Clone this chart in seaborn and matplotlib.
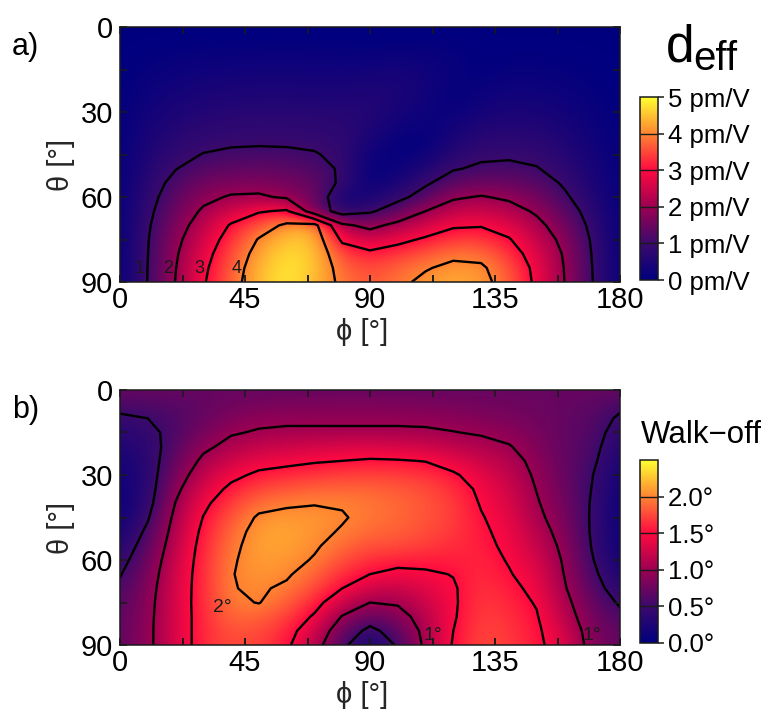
import numpy as np
import matplotlib
matplotlib.use("Agg")
import matplotlib.pyplot as plt
import seaborn as sns
from matplotlib.ticker import MultipleLocator

# ---------------- data ----------------
PHI = [0, 10, 20, 30, 40, 50, 60, 70, 80, 90, 100, 110, 120, 130, 140, 150, 160, 170, 180]
THETA = [0, 5, 10, 15, 20, 25, 30, 35, 40, 45, 50, 55, 60, 65, 70, 75, 80, 85, 90]

# d_eff [pm/V]; one list per phi column, theta 0 -> 90
DEFF_COLUMNS = [
    [0.00,0.00,0.01,0.02,0.03,0.04,0.05,0.06,0.07,0.08,0.09,0.10,0.10,0.11,0.11,0.12,0.12,0.12,0.12],
    [0.00,0.03,0.07,0.12,0.18,0.25,0.32,0.39,0.46,0.53,0.61,0.70,0.78,0.85,0.92,0.97,0.99,1.01,1.02],
    [0.00,0.05,0.12,0.20,0.29,0.38,0.48,0.58,0.70,0.83,0.98,1.18,1.35,1.52,1.68,1.82,1.92,1.98,2.02],
    [0.00,0.06,0.15,0.25,0.36,0.47,0.58,0.70,0.84,1.02,1.28,1.55,1.82,2.10,2.35,2.55,2.72,2.85,2.93],
    [0.00,0.07,0.17,0.28,0.40,0.52,0.64,0.76,0.90,1.10,1.35,1.67,2.07,2.55,3.07,3.32,3.52,3.65,3.72],
    [0.00,0.08,0.18,0.30,0.42,0.54,0.66,0.78,0.91,1.13,1.40,1.70,2.10,2.93,3.60,4.05,4.25,4.38,4.45],
    [0.00,0.08,0.18,0.30,0.42,0.54,0.66,0.78,0.91,1.10,1.35,1.60,1.90,3.10,4.15,4.50,4.72,4.82,4.85],
    [0.00,0.08,0.18,0.29,0.41,0.53,0.65,0.76,0.88,1.04,1.22,1.40,1.60,1.50,4.25,4.50,4.55,4.55,4.45],
    [0.00,0.07,0.17,0.28,0.40,0.52,0.63,0.72,0.80,0.86,0.92,0.88,0.35,0.65,2.15,2.85,3.45,3.72,3.85],
    [0.00,0.06,0.15,0.30,0.45,0.55,0.60,0.55,0.42,0.25,0.10,0.15,0.42,0.90,1.80,2.50,3.15,3.45,3.60],
    [0.00,0.06,0.22,0.35,0.45,0.45,0.38,0.26,0.13,0.08,0.20,0.45,0.80,1.40,2.20,2.80,3.35,3.70,3.85],
    [0.00,0.08,0.18,0.27,0.32,0.30,0.24,0.14,0.08,0.22,0.55,0.90,1.30,2.00,2.55,3.10,3.60,3.95,4.15],
    [0.00,0.07,0.13,0.16,0.13,0.06,0.15,0.30,0.48,0.70,0.95,1.35,1.90,2.40,2.90,3.40,3.85,4.15,4.30],
    [0.00,0.04,0.05,0.04,0.12,0.24,0.38,0.53,0.70,0.88,1.10,1.50,2.05,2.50,2.95,3.40,3.80,4.10,4.20],
    [0.00,0.02,0.07,0.14,0.23,0.33,0.45,0.58,0.74,0.90,1.15,1.45,1.88,2.30,2.70,3.05,3.35,3.60,3.70],
    [0.00,0.03,0.07,0.13,0.21,0.31,0.42,0.55,0.70,0.86,1.03,1.30,1.60,1.90,2.20,2.45,2.65,2.80,2.85],
    [0.00,0.02,0.06,0.11,0.17,0.24,0.33,0.43,0.54,0.65,0.78,0.92,1.10,1.35,1.60,1.80,1.93,1.98,2.00],
    [0.00,0.01,0.03,0.05,0.08,0.12,0.17,0.23,0.29,0.35,0.43,0.50,0.60,0.72,0.83,0.92,0.97,1.00,1.02],
    [0.00,0.00,0.01,0.02,0.03,0.04,0.05,0.06,0.07,0.08,0.09,0.10,0.10,0.11,0.11,0.12,0.12,0.12,0.12],
]

# walk-off [deg]; one list per phi column, theta 0 -> 90
WALK_COLUMNS = [
    [0.72,0.60,0.45,0.35,0.27,0.20,0.15,0.12,0.10,0.12,0.18,0.27,0.38,0.48,0.56,0.62,0.66,0.68,0.69],
    [0.72,0.62,0.50,0.42,0.37,0.34,0.33,0.34,0.38,0.47,0.57,0.67,0.75,0.81,0.86,0.89,0.91,0.92,0.92],
    [0.72,0.66,0.60,0.60,0.64,0.72,0.82,0.92,1.01,1.09,1.15,1.20,1.25,1.29,1.31,1.32,1.32,1.32,1.32],
    [0.72,0.70,0.72,0.80,0.93,1.07,1.20,1.32,1.43,1.51,1.57,1.61,1.63,1.64,1.64,1.64,1.63,1.63,1.63],
    [0.72,0.76,0.85,0.97,1.10,1.25,1.42,1.57,1.70,1.80,1.88,1.93,1.97,1.99,1.99,1.95,1.88,1.80,1.76],
    [0.72,0.80,0.92,1.03,1.20,1.38,1.56,1.74,1.90,2.04,2.10,2.12,2.10,2.07,2.03,2.01,1.86,1.78,1.72],
    [0.72,0.82,0.93,1.06,1.23,1.42,1.62,1.80,1.96,2.08,2.13,2.12,2.08,2.03,1.96,1.85,1.73,1.62,1.56],
    [0.72,0.83,0.93,1.06,1.27,1.47,1.67,1.85,1.99,2.06,2.06,2.03,1.98,1.88,1.76,1.62,1.46,1.30,1.17],
    [0.72,0.84,0.93,1.06,1.30,1.50,1.70,1.87,1.98,2.02,1.98,1.90,1.78,1.64,1.50,1.25,0.98,0.75,0.60],
    [0.72,0.84,0.93,1.06,1.32,1.53,1.72,1.86,1.93,1.93,1.88,1.78,1.64,1.50,1.27,1.00,0.70,0.40,0.12],
    [0.72,0.83,0.93,1.06,1.28,1.52,1.70,1.82,1.88,1.88,1.85,1.77,1.60,1.42,1.22,1.04,0.86,0.68,0.55],
    [0.72,0.82,0.92,1.05,1.25,1.49,1.66,1.76,1.80,1.80,1.77,1.70,1.58,1.46,1.35,1.25,1.16,1.10,1.07],
    [0.72,0.80,0.90,1.01,1.17,1.37,1.54,1.65,1.70,1.71,1.69,1.64,1.57,1.51,1.47,1.46,1.47,1.50,1.53],
    [0.72,0.78,0.86,0.97,1.10,1.24,1.36,1.44,1.48,1.52,1.55,1.58,1.61,1.64,1.67,1.70,1.72,1.74,1.75],
    [0.72,0.76,0.82,0.91,1.02,1.12,1.20,1.27,1.32,1.37,1.41,1.44,1.48,1.52,1.57,1.61,1.65,1.68,1.70],
    [0.72,0.74,0.77,0.81,0.86,0.91,0.95,0.99,1.03,1.08,1.15,1.22,1.30,1.37,1.43,1.48,1.52,1.55,1.56],
    [0.72,0.71,0.70,0.69,0.69,0.70,0.72,0.75,0.78,0.82,0.87,0.92,0.96,0.99,1.03,1.10,1.17,1.28,1.35],
    [0.72,0.69,0.66,0.63,0.60,0.56,0.51,0.49,0.47,0.46,0.46,0.48,0.52,0.58,0.65,0.72,0.78,0.83,0.86],
    [0.72,0.58,0.45,0.36,0.28,0.22,0.17,0.13,0.11,0.10,0.10,0.11,0.15,0.22,0.32,0.46,0.58,0.66,0.70],
]

DEFF_LEVELS = [1, 2, 3, 4]
DEFF_LEVEL_LABELS = ["1", "2", "3", "4"]
DEFF_LABEL_PHI = [7, 17.5, 28.5, 42]
DEFF_LABEL_THETA = [85.3, 85.3, 85.3, 85.3]
DEFF_TICKS = [0, 1, 2, 3, 4, 5]
DEFF_TICK_LABELS = ["0 pm/V", "1 pm/V", "2 pm/V", "3 pm/V", "4 pm/V", "5 pm/V"]

WALK_LEVELS = [0.5, 1.0, 1.5, 2.0]
WALK_LABELS = ["2°", "1°", "1°"]
WALK_LABEL_PHI = [37, 112.5, 170]
WALK_LABEL_THETA = [76.6, 86.8, 86.8]
WALK_TICKS = [0.0, 0.5, 1.0, 1.5, 2.0]
WALK_TICK_LABELS = ["0.0°", "0.5°", "1.0°", "1.5°", "2.0°"]

PHI_TICK_STEP = 22.5

# ---------------- style ----------------
sns.set_theme(style="ticks")
plt.rcParams["font.family"] = ["Liberation Sans", "DejaVu Sans"]
plt.rcParams["axes.edgecolor"] = "black"
plt.rcParams["axes.axisbelow"] = False
plt.rcParams["text.color"] = "black"

cmap = sns.blend_palette(["#00007f", "#3c0a6c", "#9c0052", "#ff0a40", "#ff8432", "#ffff30"],
                         as_cmap=True)

W, H = 772, 715
fig = plt.figure(figsize=(W / 100, H / 100), dpi=100)


def frac(x0, y0, x1, y1):
    return [x0 / W, 1 - y1 / H, (x1 - x0) / W, (y1 - y0) / H]


ax1 = fig.add_axes(frac(120, 27, 620, 282))
cax1 = fig.add_axes(frac(640, 97, 658, 280))
ax2 = fig.add_axes(frac(120, 390, 620, 645))
cax2 = fig.add_axes(frac(640, 460, 658, 643))

phi = np.array(PHI, dtype=float)
theta = np.array(THETA, dtype=float)
dphi = phi[1] - phi[0]
dth = theta[1] - theta[0]
extent = [phi[0] - dphi / 2, phi[-1] + dphi / 2, theta[-1] + dth / 2, theta[0] - dth / 2]


def panel(ax, cax, cols, vmax, levels, ticks, ticklabels):
    Z = np.array(cols).T  # rows = theta, cols = phi
    im = ax.imshow(Z, cmap=cmap, vmin=0, vmax=vmax, extent=extent,
                   interpolation="bicubic", aspect="auto", origin="upper", zorder=0)
    cs = ax.contour(phi, theta, Z, levels=levels, colors="black", linewidths=1.7, zorder=2)
    ax.set_axisbelow(False)
    ax.set_xlim(0, 180)
    ax.set_ylim(90, 0)
    ax.xaxis.set_major_locator(MultipleLocator(45))
    ax.xaxis.set_minor_locator(MultipleLocator(PHI_TICK_STEP))
    ax.yaxis.set_major_locator(MultipleLocator(30))
    ax.yaxis.set_minor_locator(MultipleLocator(15))
    ax.tick_params(which="both", direction="in", bottom=True, left=True, top=True,
                   right=True, length=5, width=1.1, color="k", labelcolor="black")
    ax.tick_params(axis="x", which="major", labelsize=21, pad=3)
    ax.tick_params(axis="y", which="major", labelsize=21, pad=5)
    # inward tick marks along the bottom edge (drawn explicitly)
    tr = ax.get_xaxis_transform()
    for xt in np.arange(0, 180.01, PHI_TICK_STEP):
        ax.plot([xt, xt], [0, 7 / 255], transform=tr, color="k", lw=1.1,
                solid_capstyle="butt", clip_on=False, zorder=6)
    ax.set_xlabel("ϕ [°]", fontsize=21)
    ax.xaxis.set_label_coords(0.485, -0.14)
    ax.set_ylabel("θ [°]", fontsize=21)
    ax.yaxis.set_label_coords(-0.09, 0.46)
    for s in ax.spines.values():
        s.set_linewidth(1.1)
        s.set_color("k")
    cb = fig.colorbar(im, cax=cax, ticks=ticks)
    cb.ax.set_yticklabels(ticklabels)
    cb.ax.tick_params(which="major", right=True, labelsize=18.5, length=4, width=1.1,
                      direction="out", pad=3, color="k", labelcolor="black")
    cb.ax.minorticks_off()
    cb.outline.set_linewidth(1.1)
    cb.outline.set_edgecolor("k")
    cb.add_lines(levels, ["k"] * len(levels), [1.0] * len(levels))
    return cs


panel(ax1, cax1, DEFF_COLUMNS, 5.0, DEFF_LEVELS, DEFF_TICKS, DEFF_TICK_LABELS)
panel(ax2, cax2, WALK_COLUMNS, 2.5, WALK_LEVELS, WALK_TICKS, WALK_TICK_LABELS)

for lab, x, y in zip(DEFF_LEVEL_LABELS, DEFF_LABEL_PHI, DEFF_LABEL_THETA):
    ax1.text(x, y, lab, fontsize=13, ha="center", va="center", color="k")
for lab, x, y in zip(WALK_LABELS, WALK_LABEL_PHI, WALK_LABEL_THETA):
    ax2.text(x, y, lab, fontsize=14, ha="center", va="center", color="k")

fig.text(12 / W, 1 - 55 / H, "a)", fontsize=22, ha="left", va="baseline")
fig.text(12 / W, 1 - 418 / H, "b)", fontsize=22, ha="left", va="baseline")
fig.text(666 / W, 1 - 62 / H, "d", fontsize=37, ha="left", va="baseline")
fig.text(693 / W, 1 - 70 / H, "eff", fontsize=29, ha="left", va="baseline")
fig.text(641 / W, 1 - 443 / H, "Walk\u2212off", fontsize=22.5, ha="left", va="baseline")

fig.savefig("out.png", dpi=100, facecolor="white")
